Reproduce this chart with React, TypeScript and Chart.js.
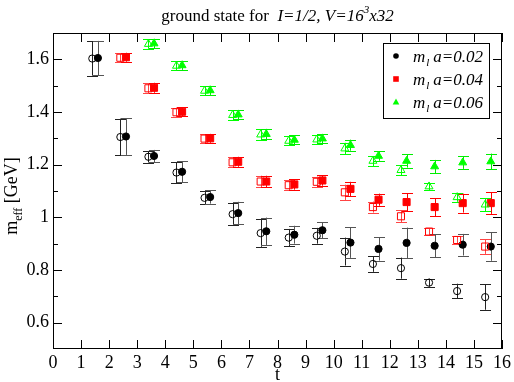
import React, { useEffect, useRef } from "react";
import { Chart, registerables } from "chart.js";

Chart.register(...registerables);

// ---- data ----
const tBlack = [1, 2, 3, 4, 5, 6, 7, 8, 9, 10, 11, 12, 13, 14, 15];
const tRed = [2, 3, 4, 5, 6, 7, 8, 9, 10, 11, 12, 13, 14, 15];
const tGreen = [3, 4, 5, 6, 7, 8, 9, 10, 11, 12, 13, 14, 15];

const blackFilled = [1.605, 1.307, 1.233, 1.173, 1.077, 1.016, 0.947, 0.934, 0.951, 0.904, 0.88, 0.903, 0.892, 0.896, 0.889];
const blackFilledErr = [0.065, 0.07, 0.023, 0.04, 0.025, 0.043, 0.052, 0.034, 0.03, 0.058, 0.044, 0.058, 0.043, 0.041, 0.054];
const blackOpen = [1.603, 1.305, 1.23, 1.17, 1.074, 1.012, 0.94, 0.923, 0.93, 0.87, 0.823, 0.807, 0.752, 0.72, 0.697];
const blackOpenErr = [0.065, 0.07, 0.022, 0.04, 0.025, 0.043, 0.052, 0.033, 0.03, 0.053, 0.03, 0.04, 0.015, 0.028, 0.048];

const redFilled = [1.608, 1.492, 1.401, 1.3, 1.211, 1.136, 1.125, 1.14, 1.108, 1.067, 1.058, 1.039, 1.054, 1.054];
const redFilledErr = [0.017, 0.019, 0.018, 0.017, 0.019, 0.022, 0.02, 0.02, 0.027, 0.023, 0.034, 0.034, 0.036, 0.041];
const redOpen = [1.606, 1.49, 1.399, 1.299, 1.209, 1.136, 1.122, 1.135, 1.095, 1.039, 1.004, 0.946, 0.914, 0.889];
const redOpenErr = [0.017, 0.019, 0.018, 0.017, 0.019, 0.022, 0.02, 0.02, 0.029, 0.021, 0.023, 0.013, 0.015, 0.028];

const greenFilled = [1.66, 1.577, 1.482, 1.39, 1.316, 1.294, 1.299, 1.274, 1.233, 1.214, 1.193, 1.208, 1.212];
const greenFilledErr = [0.018, 0.017, 0.017, 0.018, 0.02, 0.017, 0.018, 0.021, 0.018, 0.025, 0.025, 0.024, 0.03];
const greenOpen = [1.658, 1.575, 1.48, 1.388, 1.314, 1.29, 1.295, 1.261, 1.214, 1.179, 1.117, 1.076, 1.048];
const greenOpenErr = [0.018, 0.017, 0.017, 0.018, 0.02, 0.017, 0.018, 0.022, 0.019, 0.02, 0.015, 0.017, 0.024];

const seriesNames = ["0.02", "0.04", "0.06"];
const xTickValues = [0, 1, 2, 3, 4, 5, 6, 7, 8, 9, 10, 11, 12, 13, 14, 15, 16];
const yTickValues = [0.6, 0.8, 1.0, 1.2, 1.4, 1.6];
const yTickLabels = ["0.6", "0.8", "1", "1.2", "1.4", "1.6"];
const yMinorTicks = [0.7, 0.9, 1.1, 1.3, 1.5];

const OPEN_SHIFT = 0.4;
const FILLED_SHIFT = 0.6;
const FONT = "'Liberation Serif', 'Times New Roman', serif";

function mk(ts: number[], vals: number[], errs: number[], shift: number) {
  return ts.map((t, i) => ({ x: t + shift, y: vals[i], e: errs[i] }));
}

function legendMarker(ctx: CanvasRenderingContext2D, style: string, x: number, y: number, color: string) {
  ctx.fillStyle = color;
  ctx.beginPath();
  if (style === "circle") {
    ctx.arc(x, y, 2.8, 0, Math.PI * 2);
  } else if (style === "rect") {
    ctx.rect(x - 2.8, y - 2.8, 5.6, 5.6);
  } else {
    ctx.moveTo(x, y - 3.5);
    ctx.lineTo(x + 3.3, y + 2.5);
    ctx.lineTo(x - 3.3, y + 2.5);
    ctx.closePath();
  }
  ctx.fill();
}

const overlay = {
  id: "overlay",
  beforeDatasetsDraw(chart: any) {
    const ctx = chart.ctx;
    const xs = chart.scales.x;
    const ys = chart.scales.y;
    ctx.save();
    chart.data.datasets.forEach((ds: any) => {
      ctx.strokeStyle = ds.errColor;
      ctx.lineWidth = 1;
      ds.data.forEach((p: any) => {
        const px = Math.round(xs.getPixelForValue(p.x)) + 0.5;
        const yt = ys.getPixelForValue(p.y + p.e);
        const yb = ys.getPixelForValue(p.y - p.e);
        ctx.beginPath();
        ctx.moveTo(px, yt);
        ctx.lineTo(px, yb);
        ctx.moveTo(px - 5.5, Math.round(yt) + 0.5);
        ctx.lineTo(px + 5.5, Math.round(yt) + 0.5);
        ctx.moveTo(px - 5.5, Math.round(yb) + 0.5);
        ctx.lineTo(px + 5.5, Math.round(yb) + 0.5);
        ctx.stroke();
      });
    });
    ctx.restore();
  },
  afterDraw(chart: any) {
    const ctx = chart.ctx;
    const xs = chart.scales.x;
    const ys = chart.scales.y;
    const a = chart.chartArea;
    ctx.save();
    // frame
    ctx.strokeStyle = "#000";
    ctx.lineWidth = 1;
    ctx.strokeRect(a.left + 0.5, a.top + 0.5, a.right - a.left - 1, a.bottom - a.top - 1);
    // ticks
    ctx.beginPath();
    xTickValues.forEach((v) => {
      const px = Math.round(xs.getPixelForValue(v)) + 0.5;
      ctx.moveTo(px, a.bottom);
      ctx.lineTo(px, a.bottom - 9);
      ctx.moveTo(px, a.top);
      ctx.lineTo(px, a.top + 9);
    });
    yTickValues.forEach((v) => {
      const py = Math.round(ys.getPixelForValue(v)) + 0.5;
      ctx.moveTo(a.left, py);
      ctx.lineTo(a.left + 9, py);
      ctx.moveTo(a.right, py);
      ctx.lineTo(a.right - 9, py);
    });
    yMinorTicks.forEach((v) => {
      const py = Math.round(ys.getPixelForValue(v)) + 0.5;
      ctx.moveTo(a.left, py);
      ctx.lineTo(a.left + 5, py);
      ctx.moveTo(a.right, py);
      ctx.lineTo(a.right - 5, py);
    });
    ctx.stroke();

    ctx.fillStyle = "#000";
    ctx.textBaseline = "alphabetic";
    ctx.textAlign = "left";
    // title
    const parts: [string, string, number][] = [
      ["ground state for  ", `17px ${FONT}`, 0],
      ["I=1/2, V=16", `italic 17px ${FONT}`, 0],
      ["3", `italic 11px ${FONT}`, -8],
      ["x32", `italic 17px ${FONT}`, 0],
    ];
    let total = 0;
    parts.forEach(([s, f]) => {
      ctx.font = f;
      total += ctx.measureText(s).width;
    });
    let tx = (a.left + a.right) / 2 - total / 2;
    const ty = 21;
    parts.forEach(([s, f, dy]) => {
      ctx.font = f;
      ctx.fillText(s, tx, ty + dy);
      tx += ctx.measureText(s).width;
    });

    // x title
    ctx.font = `18px ${FONT}`;
    ctx.textAlign = "center";
    ctx.fillText("t", (a.left + a.right) / 2, 380);

    // y title
    ctx.save();
    ctx.translate(17, 196);
    ctx.rotate(-Math.PI / 2);
    ctx.textAlign = "left";
    const yparts: [string, string, number][] = [
      ["m", `18px ${FONT}`, 0],
      ["eff", `12px ${FONT}`, 5],
      [" [GeV]", `18px ${FONT}`, 0],
    ];
    let yw = 0;
    yparts.forEach(([s, f]) => {
      ctx.font = f;
      yw += ctx.measureText(s).width;
    });
    let yx = -yw / 2;
    yparts.forEach(([s, f, dy]) => {
      ctx.font = f;
      ctx.fillText(s, yx, dy);
      yx += ctx.measureText(s).width;
    });
    ctx.restore();

    // legend
    const lx = 383, ly = 43, lw = 106, lh = 75;
    ctx.fillStyle = "#fff";
    ctx.fillRect(lx, ly, lw, lh);
    ctx.strokeStyle = "#000";
    ctx.strokeRect(lx + 0.5, ly + 0.5, lw, lh);
    const filledSets = chart.data.datasets.filter((d: any) => d.legendIdx !== undefined);
    filledSets.forEach((ds: any) => {
      const rowY = 56 + ds.legendIdx * 23;
      legendMarker(ctx, ds.pointStyle, 396, rowY, ds.backgroundColor);
      ctx.fillStyle = "#000";
      ctx.textAlign = "left";
      let x = 413;
      const base = rowY + 6;
      ctx.font = `italic 17px ${FONT}`;
      ctx.fillText("m", x, base);
      x += ctx.measureText("m").width + 1;
      ctx.font = `italic 11px ${FONT}`;
      ctx.fillText("l", x, base + 4);
      x += ctx.measureText("l").width + 4;
      ctx.font = `italic 17px ${FONT}`;
      ctx.fillText("a=" + seriesNames[ds.legendIdx], x, base);
    });
    ctx.restore();
  },
};

export default function App() {
  const ref = useRef<HTMLCanvasElement | null>(null);
  useEffect(() => {
    if (!ref.current) return;
    const specs = [
      { ts: tBlack, fv: blackFilled, fe: blackFilledErr, ov: blackOpen, oe: blackOpenErr, color: "#000000", ferr: "#555555", oerr: "#222222", style: "circle", r: 3.6 },
      { ts: tRed, fv: redFilled, fe: redFilledErr, ov: redOpen, oe: redOpenErr, color: "#ff0000", ferr: "#ff0000", oerr: "#ff4444", style: "rect", r: 5 },
      { ts: tGreen, fv: greenFilled, fe: greenFilledErr, ov: greenOpen, oe: greenOpenErr, color: "#00ff00", ferr: "#00ee00", oerr: "#00ff00", style: "triangle", r: 4.6 },
    ];
    const datasets: any[] = [];
    specs.forEach((s) => {
      datasets.push({
        data: mk(s.ts, s.ov, s.oe, OPEN_SHIFT),
        pointStyle: s.style,
        pointRadius: s.r,
        pointBorderWidth: 1,
        borderColor: s.color,
        backgroundColor: "rgba(0,0,0,0)",
        errColor: s.oerr,
        showLine: false,
      });
    });
    specs.forEach((s, i) => {
      datasets.push({
        data: mk(s.ts, s.fv, s.fe, FILLED_SHIFT),
        pointStyle: s.style,
        pointRadius: s.r,
        pointBorderWidth: 1,
        borderColor: s.color,
        backgroundColor: s.color,
        errColor: s.ferr,
        legendIdx: i,
        showLine: false,
      });
    });
    const chart = new Chart(ref.current, {
      type: "scatter",
      data: { datasets },
      options: {
        responsive: false,
        animation: false,
        layout: { padding: { left: 0, right: 10, top: 33, bottom: 0 } },
        plugins: { legend: { display: false }, tooltip: { enabled: false }, title: { display: false } },
        scales: {
          x: {
            type: "linear",
            min: 0,
            max: 16,
            grid: { display: false, drawTicks: false },
            border: { display: false },
            afterBuildTicks: (sc: any) => {
              sc.ticks = xTickValues.map((v) => ({ value: v }));
            },
            afterFit: (sc: any) => {
              sc.height = 33;
            },
            ticks: {
              padding: 3,
              color: "#000",
              font: { family: FONT, size: 18 },
              maxRotation: 0,
              autoSkip: false,
              callback: (v: any) => String(v),
            },
          },
          y: {
            type: "linear",
            min: 0.5,
            max: 1.7,
            grid: { display: false, drawTicks: false },
            border: { display: false },
            afterBuildTicks: (sc: any) => {
              sc.ticks = yTickValues.map((v) => ({ value: v }));
            },
            afterFit: (sc: any) => {
              sc.width = 53;
            },
            ticks: {
              padding: 4,
              color: "#000",
              font: { family: FONT, size: 18 },
              autoSkip: false,
              callback: (v: any) => {
                const i = yTickValues.findIndex((t) => Math.abs(t - v) < 1e-6);
                return i >= 0 ? yTickLabels[i] : "";
              },
            },
          },
        },
      },
      plugins: [overlay],
    });
    return () => chart.destroy();
  }, []);
  return (
    <div style={{ position: "fixed", left: 0, top: 0, width: 514, height: 382, background: "#fff" }}>
      <canvas ref={ref} width={514} height={382} />
    </div>
  );
}
